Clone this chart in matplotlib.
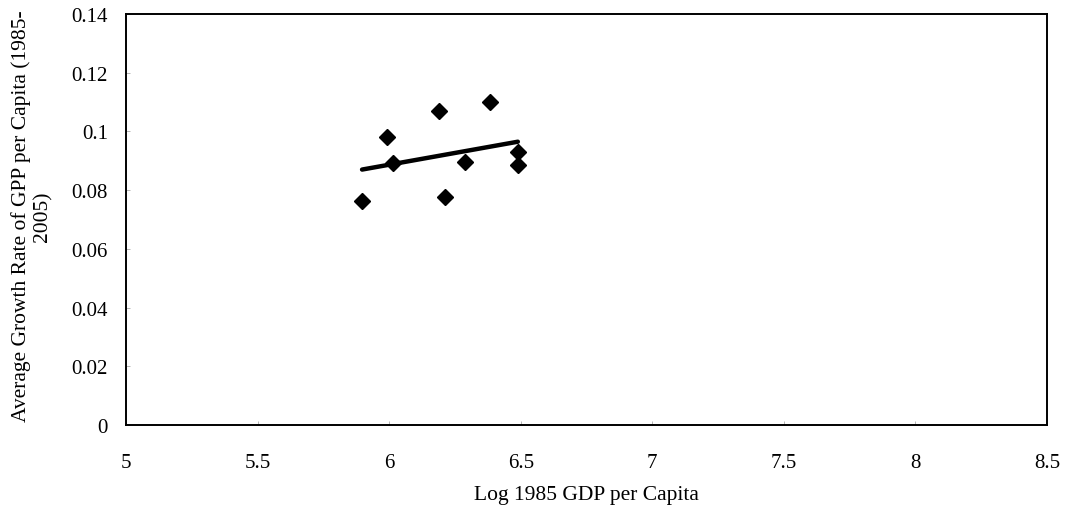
import numpy as np
import matplotlib.pyplot as plt

# Log 1985 GDP per capita and average growth rate 1985-2005
log_gdp_1985 = [5.897, 5.991, 6.014, 6.191, 6.214, 6.289, 6.383, 6.489, 6.489]
growth_rate = [0.0764, 0.0980, 0.0892, 0.1068, 0.0778, 0.0895, 0.1099, 0.0931, 0.0886]

x_ticks = [5, 5.5, 6, 6.5, 7, 7.5, 8, 8.5]
x_tick_labels = ['5', '5.5', '6', '6.5', '7', '7.5', '8', '8.5']
y_ticks = [0, 0.02, 0.04, 0.06, 0.08, 0.1, 0.12, 0.14]
y_tick_labels = ['0', '0.02', '0.04', '0.06', '0.08', '0.1', '0.12', '0.14']

plt.rcParams['font.family'] = 'Liberation Serif'

fig = plt.figure(figsize=(10.67, 5.10), dpi=100)
ax = fig.add_axes([0.1181, 0.1647, 0.8632, 0.8059])

x = np.array(log_gdp_1985)
y = np.array(growth_rate)

# linear trend over the observed range
slope, intercept = np.polyfit(x, y, 1)
xs = np.array([x.min(), x.max()])
ax.plot(xs, slope * xs + intercept, color='black', lw=3.2, solid_capstyle='round', zorder=2)

ax.plot(x, y, linestyle='none', marker='D', markersize=8, color='black', zorder=3)

ax.set_xlim(5, 8.5)
ax.set_ylim(0, 0.14)
ax.set_xticks(x_ticks)
ax.set_xticklabels(x_tick_labels)
ax.set_yticks(y_ticks)
ax.set_yticklabels(y_tick_labels)
ax.tick_params(axis='x', direction='in', length=3, width=0.5, color='#999999', pad=20, labelsize=15)
ax.tick_params(axis='y', direction='in', length=3, width=0.5, color='#999999', pad=13, labelsize=15)

for s in ax.spines.values():
    s.set_linewidth(1.4)

ax.set_xlabel('Log 1985 GDP per Capita', fontsize=15.5)
ax.xaxis.set_label_coords(0.5, -0.145)
ax.set_ylabel('Average Growth Rate of GPP per Capita (1985-\n2005)', fontsize=15.5,
              linespacing=1.15)
ax.yaxis.set_label_coords(-0.08, 0.51)

plt.savefig('out.png', dpi=100)
